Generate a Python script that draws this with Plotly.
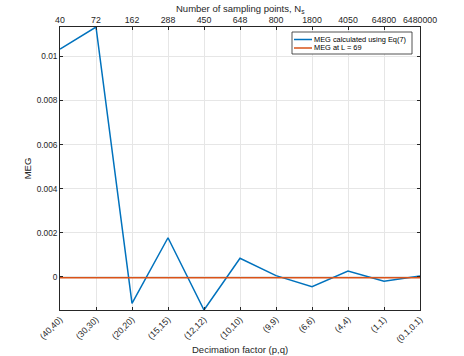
import plotly.graph_objects as go

# decimation factors (bottom axis) and matching number of sampling points (top axis)
decimation = ["(40,40)", "(30,30)", "(20,20)", "(15,15)", "(12,12)", "(10,10)",
              "(9,9)", "(6,6)", "(4,4)", "(1,1)", "(0.1,0.1)"]
n_points = ["40", "72", "162", "288", "450", "648", "800", "1800", "4050", "64800", "6480000"]

# MEG values
meg_eq7 = [0.01034, 0.01134, -0.00121, 0.00177, -0.00151, 0.00084,
           0.00005, -0.00045, 0.00026, -0.00020, 0.00003]
meg_L69 = [-0.00005] * len(decimation)

names = ["MEG calculated using Eq(7)", "MEG at L = 69"]
colors = ["#0072BD", "#D95319"]

pos = list(range(len(decimation)))

font = "Liberation Sans, Arial, sans-serif"
axis_col = "#262626"
grid_col = "#e6e6e6"

fig = go.Figure()
fig.add_trace(go.Scatter(x=pos, y=meg_eq7, mode="lines", name=names[0],
                         line=dict(color=colors[0], width=1.5)))
fig.add_trace(go.Scatter(x=pos, y=meg_L69, mode="lines", name=names[1],
                         line=dict(color=colors[1], width=1.5)))
# dummy trace so the top axis gets drawn
fig.add_trace(go.Scatter(x=pos, y=meg_L69, mode="lines", xaxis="x2", showlegend=False,
                         hoverinfo="skip", line=dict(color="rgba(0,0,0,0)", width=0)))

# plot area in pixels: x 60..420, y 27..310 -> helper to get paper coords
def px(x):
    return (x - 60) / 360

def py(y):
    return (310 - y) / 283

# compact MATLAB-like legend drawn by hand
fig.add_shape(type="rect", xref="paper", yref="paper",
              x0=px(292), x1=px(412), y0=py(54), y1=py(32),
              line=dict(color=axis_col, width=0.8), fillcolor="white", layer="above")
for i, (nm, col) in enumerate(zip(names, colors)):
    yy = 39.5 + i * 8.5
    fig.add_shape(type="line", xref="paper", yref="paper",
                  x0=px(294), x1=px(312), y0=py(yy), y1=py(yy),
                  line=dict(color=col, width=1.5), layer="above")
    fig.add_annotation(x=px(312), y=py(yy), xref="paper", yref="paper", text=nm,
                       showarrow=False, xanchor="left", yanchor="middle",
                       font=dict(size=7.4, color="black"))

# axis titles for top and bottom placed by hand
fig.add_annotation(x=0.5, y=py(349), xref="paper", yref="paper", text="Decimation factor (p,q)",
                   showarrow=False, xanchor="center", yanchor="middle",
                   font=dict(size=9.5, color=axis_col))
fig.add_annotation(x=0.5, y=py(9), xref="paper", yref="paper",
                   text="Number of sampling points, N<sub>s</sub>",
                   showarrow=False, xanchor="center", yanchor="middle",
                   font=dict(size=9.5, color=axis_col))

fig.update_layout(
    width=464, height=356,
    margin=dict(l=60, r=44, t=27, b=46),
    paper_bgcolor="white", plot_bgcolor="white",
    font=dict(family=font, size=9, color=axis_col),
    showlegend=False,
    xaxis=dict(range=[0, 10], tickvals=pos, ticktext=decimation, tickangle=-45,
               showgrid=True, gridcolor=grid_col, zeroline=False, automargin=False,
               showline=True, linecolor=axis_col, linewidth=0.8,
               ticks="inside", ticklen=3, tickcolor=axis_col, tickfont=dict(size=8.8)),
    xaxis2=dict(range=[0, 10], tickvals=pos, ticktext=n_points, overlaying="x", side="top",
                showgrid=False, zeroline=False, automargin=False,
                showline=True, linecolor=axis_col, linewidth=0.8,
                ticks="inside", ticklen=3, tickcolor=axis_col, tickfont=dict(size=8.8)),
    yaxis=dict(range=[-0.00151, 0.01134], tickvals=[0, 0.002, 0.004, 0.006, 0.008, 0.01],
               ticktext=["0", "0.002", "0.004", "0.006", "0.008", "0.01"],
               showgrid=True, gridcolor=grid_col, zeroline=False, automargin=False,
               showline=True, linecolor=axis_col, linewidth=0.8, mirror="ticks",
               ticks="inside", ticklen=3, tickcolor=axis_col, tickfont=dict(size=8.3),
               title=dict(text="MEG", font=dict(size=9.5), standoff=3)),
)

# the page has a default 8px body margin; drop it so the figure sits at 0,0
fig.write_html("out.html", config={"displayModeBar": False},
               post_script="document.body.style.margin = '0';")
